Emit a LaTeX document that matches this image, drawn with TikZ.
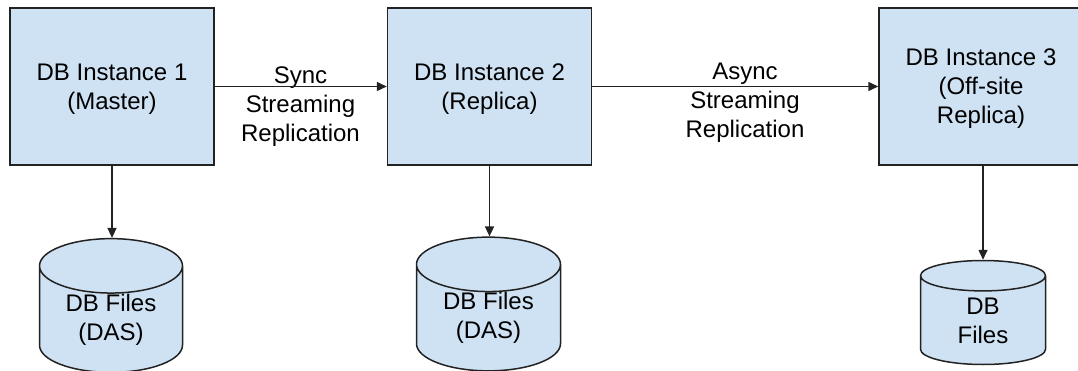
\documentclass[tikz,border=0pt]{standalone}
\usepackage{fontspec}
\setmainfont{Liberation Sans}
\usetikzlibrary{arrows.meta,shapes.geometric}
\newlength{\du}
\setlength{\du}{1pt}
\definecolor{dialinecolor}{rgb}{0.133333, 0.133333, 0.133333}
\definecolor{diafillcolor}{rgb}{0.811765, 0.886275, 0.952941}

\begin{document}
\begin{tikzpicture}[
  diabox/.style={draw=dialinecolor, fill=diafillcolor, line width=1.5\du,
    minimum width=204\du, minimum height=157\du, align=center, inner sep=0pt,
    text depth=-9pt},
  diadisk/.style={cylinder, shape border rotate=90, draw=dialinecolor,
    fill=diafillcolor, line width=1.5\du, aspect=0.6, align=center, inner sep=0pt,
    anchor=shape center},
  dialine/.style={draw=dialinecolor, line width=1.5\du,
    -{Triangle[length=10pt,width=9pt]}},
  font=\fontsize{24}{29}\selectfont
]
\pgftransformxscale{1.000000}
\pgftransformyscale{-1.000000}
\useasboundingbox (0\du,0\du) rectangle (1078\du,371\du);
% instances
\node[diabox] (inst1) at (112.000000\du,86.500000\du){DB Instance 1\\(Master)};
\node[diabox] (inst2) at (489.500000\du,86.500000\du){DB Instance 2\\(Replica)};
\node[diabox] (inst3) at (981.000000\du,86.500000\du){DB Instance 3\\(Off-site\\Replica)};
% disks
\node[diadisk, minimum width=143\du, minimum height=119\du] (files1) at (111.000000\du,305.500000\du){DB Files\\(DAS)};
\node[diadisk, minimum width=144\du, minimum height=118\du] (files2) at (488.500000\du,304.000000\du){DB Files\\(DAS)};
\node[diadisk, minimum width=125\du, minimum height=104\du] (files3) at (983.000000\du,312.500000\du){DB\\Files};
% setfont left to latex
\node[align=center] (sync) at (300.500000\du,107.000000\du){Sync\\Streaming\\Replication};
\node[align=center] (async) at (745.000000\du,103.000000\du){Async\\Streaming\\Replication};
% replication
\draw[dialine] (inst1) -- (inst2);
\draw[dialine] (inst2) -- (inst3);
% storage
\draw[dialine] (inst1.south) -- (inst1.south |- files1.north);
\draw[dialine] (inst2.south) -- (inst2.south |- files2.north);
\draw[dialine] (inst3.south -| files3.north) -- (files3.north);
\end{tikzpicture}
\end{document}
